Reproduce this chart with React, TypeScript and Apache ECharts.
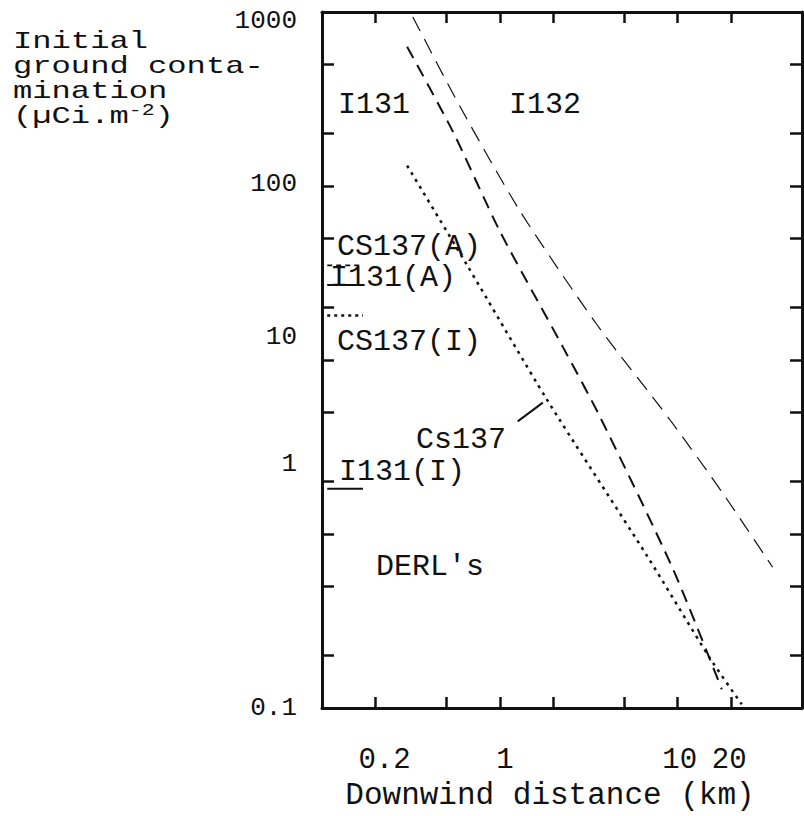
import React, { useEffect, useRef } from "react";
import * as echarts from "echarts";

// ---- axis ticks / labels (real units) ----
const xTickValues = [0.2, 0.5, 1, 2, 5, 10, 20];
const xLabelValues = [0.2, 1, 10, 20];
const xLabelTexts = ["0.2", "1", "10", "20"];
const yTickValues = [0.2, 0.5, 1, 2, 5, 10, 20, 50, 100, 200, 500];
const yLabelValues = [0.1, 1, 10, 100, 1000];
const yLabelTexts = ["0.1", "1", "10", "100", "1000"];
const xMin = 0.1;
const xMax = 50;
const yMin = 0.1;
const yMax = 1000;

// ---- curves: downwind distance (km) vs initial ground contamination (uCi/m2) ----
const i132Dist = [0.324, 0.595, 1.3, 3.51, 9.02, 17.9, 34.2];
const i132Cont = [937, 288, 71.6, 16.0, 4.55, 1.72, 0.644];
const i131Dist = [0.301, 0.545, 1.0, 2.26, 3.65, 9.37, 17.7];
const i131Cont = [632, 205, 55, 11.9, 4.73, 0.635, 0.128];
const cs137Dist = [0.301, 0.653, 1.84, 6.7, 15.1, 22.9];
const cs137Cont = [131, 35.2, 5.92, 0.753, 0.195, 0.105];

// leader line from the "Cs137" label to its curve
const leaderDist = [1.26, 1.745];
const leaderCont = [4.44, 5.69];

// ---- DERL levels (short marks at left edge) ----
const derlDist = [0.107, 0.17];
const derlCs137A = 35;
const derlI131A = 27;
const derlCs137I = 18;
const derlI131I = 1.82;

// ---- title lines ----
const titleLines = ["Initial", "ground conta-", "mination"];
const unitText = "(µCi.m{s|-2})";

const FONT = "'Liberation Mono', 'DejaVu Sans Mono', monospace";
const INK = "#111";

const lg = (v: number) => Math.log10(v);
const pts = (xs: number[], ys: number[]) => xs.map((x, i) => [lg(x), lg(ys[i])]);
const flat = (xs: number[], y: number) => xs.map((x) => [lg(x), lg(y)]);

const nearestIdx = (vals: number[], logv: number) => {
  let best = 0;
  let bd = Infinity;
  vals.forEach((v, i) => {
    const d = Math.abs(lg(v) - logv);
    if (d < bd) {
      bd = d;
      best = i;
    }
  });
  return best;
};

const yRichKeys = ["r0", "r1", "r2", "r3", "r4"];
const xRichKeys = ["x0", "x1", "x2", "x3"];

function buildOption(): any {
  const lineSeries = (name: string, data: number[][], type: any, width: number) => ({
    name,
    type: "line",
    data,
    showSymbol: false,
    symbol: "none",
    smooth: 0.25,
    lineStyle: { color: INK, width, type, cap: "butt" },
    silent: true,
    z: 3,
  });

  const xAxisCommon = {
    type: "value",
    min: lg(xMin),
    max: lg(xMax),
    splitLine: { show: false },
    axisLine: { show: true, onZero: false, lineStyle: { color: INK, width: 3 } },
    axisTick: {
      show: true,
      inside: true,
      length: 11,
      lineStyle: { color: INK, width: 2.5 },
      customValues: xTickValues.map(lg),
    },
  };
  const yAxisCommon = {
    type: "value",
    min: lg(yMin),
    max: lg(yMax),
    splitLine: { show: false },
    axisLine: { show: true, onZero: false, lineStyle: { color: INK, width: 3 } },
    axisTick: {
      show: true,
      inside: true,
      length: 12,
      lineStyle: { color: INK, width: 2.5 },
      customValues: yTickValues.map(lg),
    },
  };

  const textEl = (text: string, left: number, y: number, size = 30) => ({
    type: "text",
    left,
    top: y - size / 2,
    style: { text, fontFamily: FONT, fontSize: size, fill: INK },
    z: 10,
  });

  const TITLE_SIZE = 24;
  const TITLE_SCALE = 1.34;
  const titleEl = (text: string, cy: number, rich?: any) => ({
    type: "text",
    x: 13,
    y: cy,
    scaleX: TITLE_SCALE,
    style: {
      text,
      fontFamily: FONT,
      fontSize: TITLE_SIZE,
      fill: INK,
      align: "left",
      verticalAlign: "middle",
      rich,
    },
    z: 10,
  });

  const yTok = (pad: number[]) => ({ fontFamily: FONT, fontSize: 26, color: INK, padding: pad });
  const xTok = (pad: number[]) => ({ fontFamily: FONT, fontSize: 29, color: INK, padding: pad });

  return {
    animation: false,
    backgroundColor: "#ffffff",
    grid: { left: 322, right: 2, top: 12, bottom: 102, containLabel: false },
    xAxis: [
      {
        ...xAxisCommon,
        position: "bottom",
        name: "Downwind distance (km)",
        nameLocation: "middle",
        nameGap: 72,
        nameTextStyle: { fontFamily: FONT, fontSize: 31, color: INK, padding: [0, 24, 0, 0] },
        axisLabel: {
          show: true,
          margin: 38,
          fontFamily: FONT,
          fontSize: 29,
          color: INK,
          customValues: xLabelValues.map(lg),
          formatter: (v: number) => {
            const i = nearestIdx(xLabelValues, v);
            return "{" + xRichKeys[i] + "|" + xLabelTexts[i] + "}";
          },
          rich: {
            x0: xTok([0, 0, 0, 18]),
            x1: xTok([0, 0, 0, 10]),
            x2: xTok([0, 0, 0, 4]),
            x3: xTok([0, 4, 0, 0]),
          },
        },
      },
      {
        ...xAxisCommon,
        position: "top",
        axisLabel: { show: false },
      },
    ],
    yAxis: [
      {
        ...yAxisCommon,
        position: "left",
        axisLabel: {
          show: true,
          margin: 25,
          fontFamily: FONT,
          fontSize: 26,
          color: INK,
          customValues: yLabelValues.map(lg),
          formatter: (v: number) => {
            const i = nearestIdx(yLabelValues, v);
            return "{" + yRichKeys[i] + "|" + yLabelTexts[i] + "}";
          },
          rich: {
            r0: yTok([0, 0, 0, 0]),
            r1: yTok([0, 0, 140, 0]),
            r2: yTok([0, 0, 46, 0]),
            r3: yTok([0, 0, 4, 0]),
            r4: yTok([18, 0, 0, 0]),
          },
        },
      },
      {
        ...yAxisCommon,
        position: "right",
        axisLabel: { show: false },
      },
    ],
    series: [
      lineSeries("I132", pts(i132Dist, i132Cont), [16, 9], 1.2),
      lineSeries("I131", pts(i131Dist, i131Cont), [13, 8], 2),
      lineSeries("Cs137", pts(cs137Dist, cs137Cont), [3, 5], 2.5),
      { ...lineSeries("leader", pts(leaderDist, leaderCont), "solid", 2), smooth: false },
      { ...lineSeries("CS137(A)", flat(derlDist, derlCs137A), [5, 4], 1.6), smooth: false },
      { ...lineSeries("I131(A)", flat(derlDist, derlI131A), "solid", 2), smooth: false },
      { ...lineSeries("CS137(I)", flat(derlDist, derlCs137I), [3, 4], 2.5), smooth: false },
      { ...lineSeries("I131(I)", flat(derlDist, derlI131I), "solid", 2), smooth: false },
    ],
    graphic: [
      titleEl(titleLines[0], 42),
      titleEl(titleLines[1], 67),
      titleEl(titleLines[2], 92),
      titleEl(unitText, 117, {
        s: { fontFamily: FONT, fontSize: 16, color: INK, padding: [0, 0, 12, 0] },
      }),
      textEl("I131", 338, 105),
      textEl("I132", 509, 105),
      textEl("CS137(A)", 337, 247),
      textEl("I131(A)", 330, 278),
      textEl("CS137(I)", 337, 342),
      textEl("Cs137", 416, 440),
      textEl("I131(I)", 339, 472),
      textEl("DERL's", 376, 567),
    ],
  };
}

export default function App() {
  const ref = useRef<HTMLDivElement>(null);
  useEffect(() => {
    if (!ref.current) return;
    const chart = echarts.init(ref.current, null, { renderer: "svg" });
    chart.setOption(buildOption());
    return () => chart.dispose();
  }, []);
  return (
    <div
      ref={ref}
      style={{ position: "absolute", left: 0, top: 0, width: 804, height: 816, background: "#fff" }}
    />
  );
}
